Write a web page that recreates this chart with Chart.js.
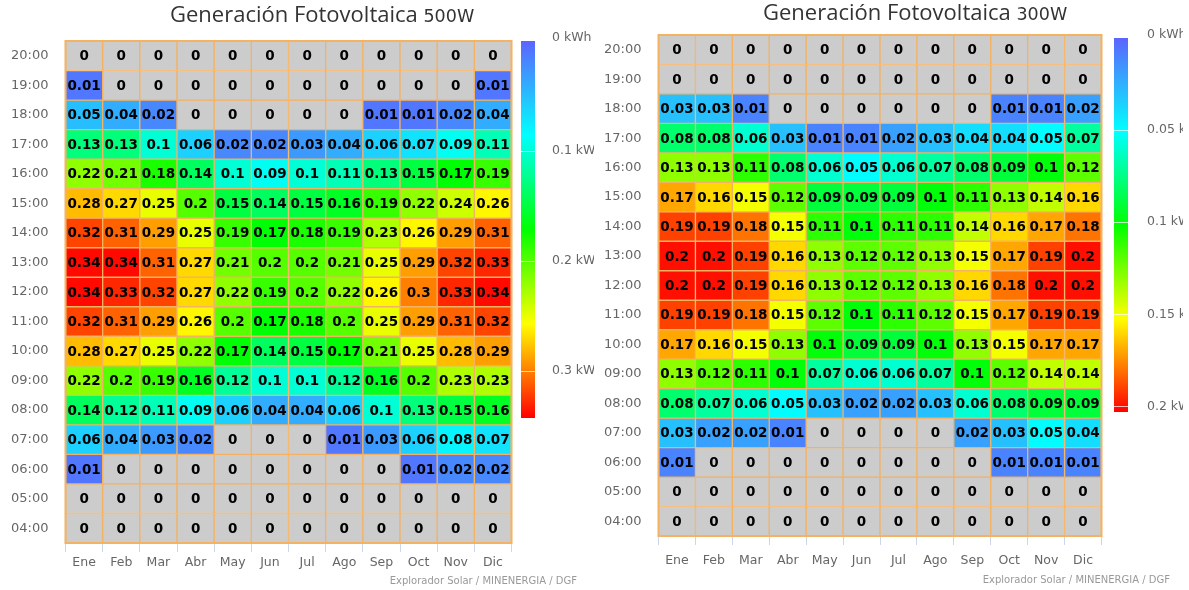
<!DOCTYPE html>
<html>
<head>
<meta charset="utf-8">
<script src="https://cdn.jsdelivr.net/npm/chart.js@4.4.1/dist/chart.umd.min.js"></script>
<style>
  html, body { margin: 0; padding: 0; background: #ffffff; width: 1189px; height: 590px; overflow: hidden; }
  canvas { position: absolute; top: 0; }
  #c500 { left: 0; }
  #c300 { left: 593px; }
</style>
</head>
<body>
<canvas id="c500" width="594" height="590"></canvas>
<canvas id="c300" width="590" height="590"></canvas>
<script>
// Months (columns) and hours of day (rows, top to bottom)
const months = ['Ene', 'Feb', 'Mar', 'Abr', 'May', 'Jun', 'Jul', 'Ago', 'Sep', 'Oct', 'Nov', 'Dic'];
const hours = [20, 19, 18, 17, 16, 15, 14, 13, 12, 11, 10, 9, 8, 7, 6, 5, 4];
const hourLabels = ['20:00', '19:00', '18:00', '17:00', '16:00', '15:00', '14:00', '13:00',
                    '12:00', '11:00', '10:00', '09:00', '08:00', '07:00', '06:00', '05:00', '04:00'];

// Hourly PV generation (kWh), 500 W system; one row per hour above
const gen500 = [
  [0, 0, 0, 0, 0, 0, 0, 0, 0, 0, 0, 0],
  [0.01, 0, 0, 0, 0, 0, 0, 0, 0, 0, 0, 0.01],
  [0.05, 0.04, 0.02, 0, 0, 0, 0, 0, 0.01, 0.01, 0.02, 0.04],
  [0.13, 0.13, 0.1, 0.06, 0.02, 0.02, 0.03, 0.04, 0.06, 0.07, 0.09, 0.11],
  [0.22, 0.21, 0.18, 0.14, 0.1, 0.09, 0.1, 0.11, 0.13, 0.15, 0.17, 0.19],
  [0.28, 0.27, 0.25, 0.2, 0.15, 0.14, 0.15, 0.16, 0.19, 0.22, 0.24, 0.26],
  [0.32, 0.31, 0.29, 0.25, 0.19, 0.17, 0.18, 0.19, 0.23, 0.26, 0.29, 0.31],
  [0.34, 0.34, 0.31, 0.27, 0.21, 0.2, 0.2, 0.21, 0.25, 0.29, 0.32, 0.33],
  [0.34, 0.33, 0.32, 0.27, 0.22, 0.19, 0.2, 0.22, 0.26, 0.3, 0.33, 0.34],
  [0.32, 0.31, 0.29, 0.26, 0.2, 0.17, 0.18, 0.2, 0.25, 0.29, 0.31, 0.32],
  [0.28, 0.27, 0.25, 0.22, 0.17, 0.14, 0.15, 0.17, 0.21, 0.25, 0.28, 0.29],
  [0.22, 0.2, 0.19, 0.16, 0.12, 0.1, 0.1, 0.12, 0.16, 0.2, 0.23, 0.23],
  [0.14, 0.12, 0.11, 0.09, 0.06, 0.04, 0.04, 0.06, 0.1, 0.13, 0.15, 0.16],
  [0.06, 0.04, 0.03, 0.02, 0, 0, 0, 0.01, 0.03, 0.06, 0.08, 0.07],
  [0.01, 0, 0, 0, 0, 0, 0, 0, 0, 0.01, 0.02, 0.02],
  [0, 0, 0, 0, 0, 0, 0, 0, 0, 0, 0, 0],
  [0, 0, 0, 0, 0, 0, 0, 0, 0, 0, 0, 0]
];

// Hourly PV generation (kWh), 300 W system
const gen300 = [
  [0, 0, 0, 0, 0, 0, 0, 0, 0, 0, 0, 0],
  [0, 0, 0, 0, 0, 0, 0, 0, 0, 0, 0, 0],
  [0.03, 0.03, 0.01, 0, 0, 0, 0, 0, 0, 0.01, 0.01, 0.02],
  [0.08, 0.08, 0.06, 0.03, 0.01, 0.01, 0.02, 0.03, 0.04, 0.04, 0.05, 0.07],
  [0.13, 0.13, 0.11, 0.08, 0.06, 0.05, 0.06, 0.07, 0.08, 0.09, 0.1, 0.12],
  [0.17, 0.16, 0.15, 0.12, 0.09, 0.09, 0.09, 0.1, 0.11, 0.13, 0.14, 0.16],
  [0.19, 0.19, 0.18, 0.15, 0.11, 0.1, 0.11, 0.11, 0.14, 0.16, 0.17, 0.18],
  [0.2, 0.2, 0.19, 0.16, 0.13, 0.12, 0.12, 0.13, 0.15, 0.17, 0.19, 0.2],
  [0.2, 0.2, 0.19, 0.16, 0.13, 0.12, 0.12, 0.13, 0.16, 0.18, 0.2, 0.2],
  [0.19, 0.19, 0.18, 0.15, 0.12, 0.1, 0.11, 0.12, 0.15, 0.17, 0.19, 0.19],
  [0.17, 0.16, 0.15, 0.13, 0.1, 0.09, 0.09, 0.1, 0.13, 0.15, 0.17, 0.17],
  [0.13, 0.12, 0.11, 0.1, 0.07, 0.06, 0.06, 0.07, 0.1, 0.12, 0.14, 0.14],
  [0.08, 0.07, 0.06, 0.05, 0.03, 0.02, 0.02, 0.03, 0.06, 0.08, 0.09, 0.09],
  [0.03, 0.02, 0.02, 0.01, 0, 0, 0, 0, 0.02, 0.03, 0.05, 0.04],
  [0.01, 0, 0, 0, 0, 0, 0, 0, 0, 0.01, 0.01, 0.01],
  [0, 0, 0, 0, 0, 0, 0, 0, 0, 0, 0, 0],
  [0, 0, 0, 0, 0, 0, 0, 0, 0, 0, 0, 0]
];

// Colour-axis ticks and their labels
const legendTicks500 = [0, 0.1, 0.2, 0.3];
const legendLabels500 = ['0 kWh', '0.1 kWh', '0.2 kWh', '0.3 kWh'];
const legendTicks300 = [0, 0.05, 0.1, 0.15, 0.2];
const legendLabels300 = ['0 kWh', '0.05 kWh', '0.1 kWh', '0.15 kWh', '0.2 kWh'];

// Colour ramp: blue -> cyan -> green -> yellow -> red
const colorStops = [
  [0, [92, 100, 255]],
  [0.25, [0, 255, 255]],
  [0.5, [0, 255, 0]],
  [0.75, [255, 255, 0]],
  [1, [255, 0, 0]]
];
const EMPTY_COLOR = '#cccccc';
const BORDER_COLOR = '#f4b263';

function rampColor(t) {
  t = Math.max(0, Math.min(1, t));
  for (let i = 1; i < colorStops.length; i++) {
    const [p1, c1] = colorStops[i];
    const [p0, c0] = colorStops[i - 1];
    if (t <= p1) {
      const f = (t - p0) / (p1 - p0);
      const c = c0.map((v, k) => Math.round(v + (c1[k] - v) * f));
      return `rgb(${c[0]},${c[1]},${c[2]})`;
    }
  }
  const c = colorStops[colorStops.length - 1][1];
  return `rgb(${c[0]},${c[1]},${c[2]})`;
}

function cellColor(v, max) {
  return v === 0 ? EMPTY_COLOR : rampColor(v / max);
}

const FONT = "'DejaVu Sans', sans-serif";

function buildChart(canvasId, grid, cfg) {
  const canvas = document.getElementById(canvasId);
  const W = canvas.width, H = canvas.height;

  const datasets = hours.map((h, r) => ({
    label: hourLabels[r],
    data: months.map(() => [h - 0.5, h + 0.5]),
    cellValues: grid[r],
    backgroundColor: grid[r].map(v => cellColor(v, cfg.colorMax)),
    borderColor: BORDER_COLOR,
    borderWidth: 1,
    borderSkipped: false,
    grouped: false,
    barPercentage: 1,
    categoryPercentage: 1
  }));

  const extras = {
    id: 'heatExtras',
    afterDatasetsDraw(chart) {
      const ctx = chart.ctx;
      ctx.save();
      ctx.font = `bold 13.5px ${FONT}`;
      ctx.fillStyle = '#000000';
      ctx.textAlign = 'center';
      ctx.textBaseline = 'middle';
      chart.data.datasets.forEach((ds, di) => {
        const meta = chart.getDatasetMeta(di);
        meta.data.forEach((el, i) => {
          ctx.fillText(String(ds.cellValues[i]), el.x, (el.y + el.base) / 2 + 1);
        });
      });
      // outer frame of the grid
      const a = chart.chartArea;
      ctx.strokeStyle = BORDER_COLOR;
      ctx.lineWidth = 2;
      ctx.strokeRect(a.left, a.top, a.right - a.left, a.bottom - a.top);
      ctx.restore();
    },
    afterDraw(chart) {
      const ctx = chart.ctx;
      ctx.save();
      // title
      ctx.textBaseline = 'middle';
      ctx.textAlign = 'left';
      ctx.fillStyle = '#333333';
      ctx.font = `22px 'Open Sans', sans-serif`;
      const main = 'Generación Fotovoltaica ';
      ctx.fillText(main, cfg.titleX, cfg.titleY);
      const w = ctx.measureText(main).width;
      ctx.font = `17.5px ${FONT}`;
      ctx.fillText(cfg.titleSuffix, cfg.titleX + w, cfg.titleY + 1);

      // colour bar
      const bx = cfg.barX, bw = 14, bt = cfg.barTop, bb = cfg.barBottom;
      const grad = ctx.createLinearGradient(0, bt, 0, bb);
      colorStops.forEach(([p]) => grad.addColorStop(p, rampColor(p)));
      ctx.fillStyle = grad;
      ctx.fillRect(bx, bt, bw, bb - bt);
      const span = cfg.legendMax;
      ctx.font = `12.5px ${FONT}`;
      ctx.fillStyle = '#666666';
      ctx.textBaseline = 'middle';
      cfg.legendTicks.forEach((t, i) => {
        const y = bt + (bb - bt) * t / span;
        if (i > 0) {
          ctx.strokeStyle = 'rgba(255,255,255,0.7)';
          ctx.lineWidth = 1;
          ctx.beginPath();
          ctx.moveTo(bx, Math.round(y) + 0.5);
          ctx.lineTo(bx + bw, Math.round(y) + 0.5);
          ctx.stroke();
        }
        ctx.fillText(cfg.legendLabels[i], cfg.labelX, i === 0 ? y - 3 : y);
      });

      // credits
      ctx.font = `10px ${FONT}`;
      ctx.fillStyle = '#999999';
      ctx.textAlign = 'right';
      ctx.fillText('Explorador Solar / MINENERGIA / DGF', cfg.creditX, cfg.creditY);
      ctx.restore();
    }
  };

  return new Chart(canvas, {
    type: 'bar',
    data: { labels: months, datasets },
    plugins: [extras],
    options: {
      responsive: false,
      animation: false,
      events: [],
      layout: {
        padding: { left: 0, top: cfg.top, right: W - cfg.right, bottom: H - cfg.bottom - cfg.xAxisH }
      },
      plugins: { legend: { display: false }, tooltip: { enabled: false }, title: { display: false } },
      scales: {
        x: {
          type: 'category',
          offset: true,
          grid: { offset: true, drawOnChartArea: false, drawTicks: true, tickLength: 9, color: '#ccd6eb' },
          border: { display: false },
          ticks: { color: '#666666', font: { family: FONT, size: 12.5 }, padding: cfg.xPad, autoSkip: false, maxRotation: 0 },
          afterFit(s) { s.height = cfg.xAxisH; }
        },
        y: {
          type: 'linear',
          min: 3.5,
          max: 20.5,
          afterBuildTicks(s) { s.ticks = hours.map(v => ({ value: v })); },
          grid: { display: false, drawTicks: false },
          border: { display: false },
          ticks: {
            color: '#666666',
            font: { family: FONT, size: 13 },
            padding: 17,
            callback: v => hourLabels[hours.indexOf(v)]
          },
          afterFit(s) { s.width = cfg.left; }
        }
      }
    }
  });
}

buildChart('c500', gen500, {
  left: 65.5, right: 511.5, top: 41, bottom: 543, xAxisH: 30, xPad: 3,
  colorMax: 0.343, legendMax: 0.343, legendTicks: legendTicks500, legendLabels: legendLabels500,
  barX: 521, barTop: 41, barBottom: 418, labelX: 552,
  titleX: 170, titleY: 16, titleSuffix: '500W',
  creditX: 577, creditY: 581
});

buildChart('c300', gen300, {
  left: 65.5, right: 508.5, top: 35, bottom: 536, xAxisH: 34, xPad: 8,
  colorMax: 0.203, legendMax: 0.203, legendTicks: legendTicks300, legendLabels: legendLabels300,
  barX: 521, barTop: 38, barBottom: 412, labelX: 554,
  titleX: 170, titleY: 14, titleSuffix: '300W',
  creditX: 577, creditY: 580
});
</script>
</body>
</html>
